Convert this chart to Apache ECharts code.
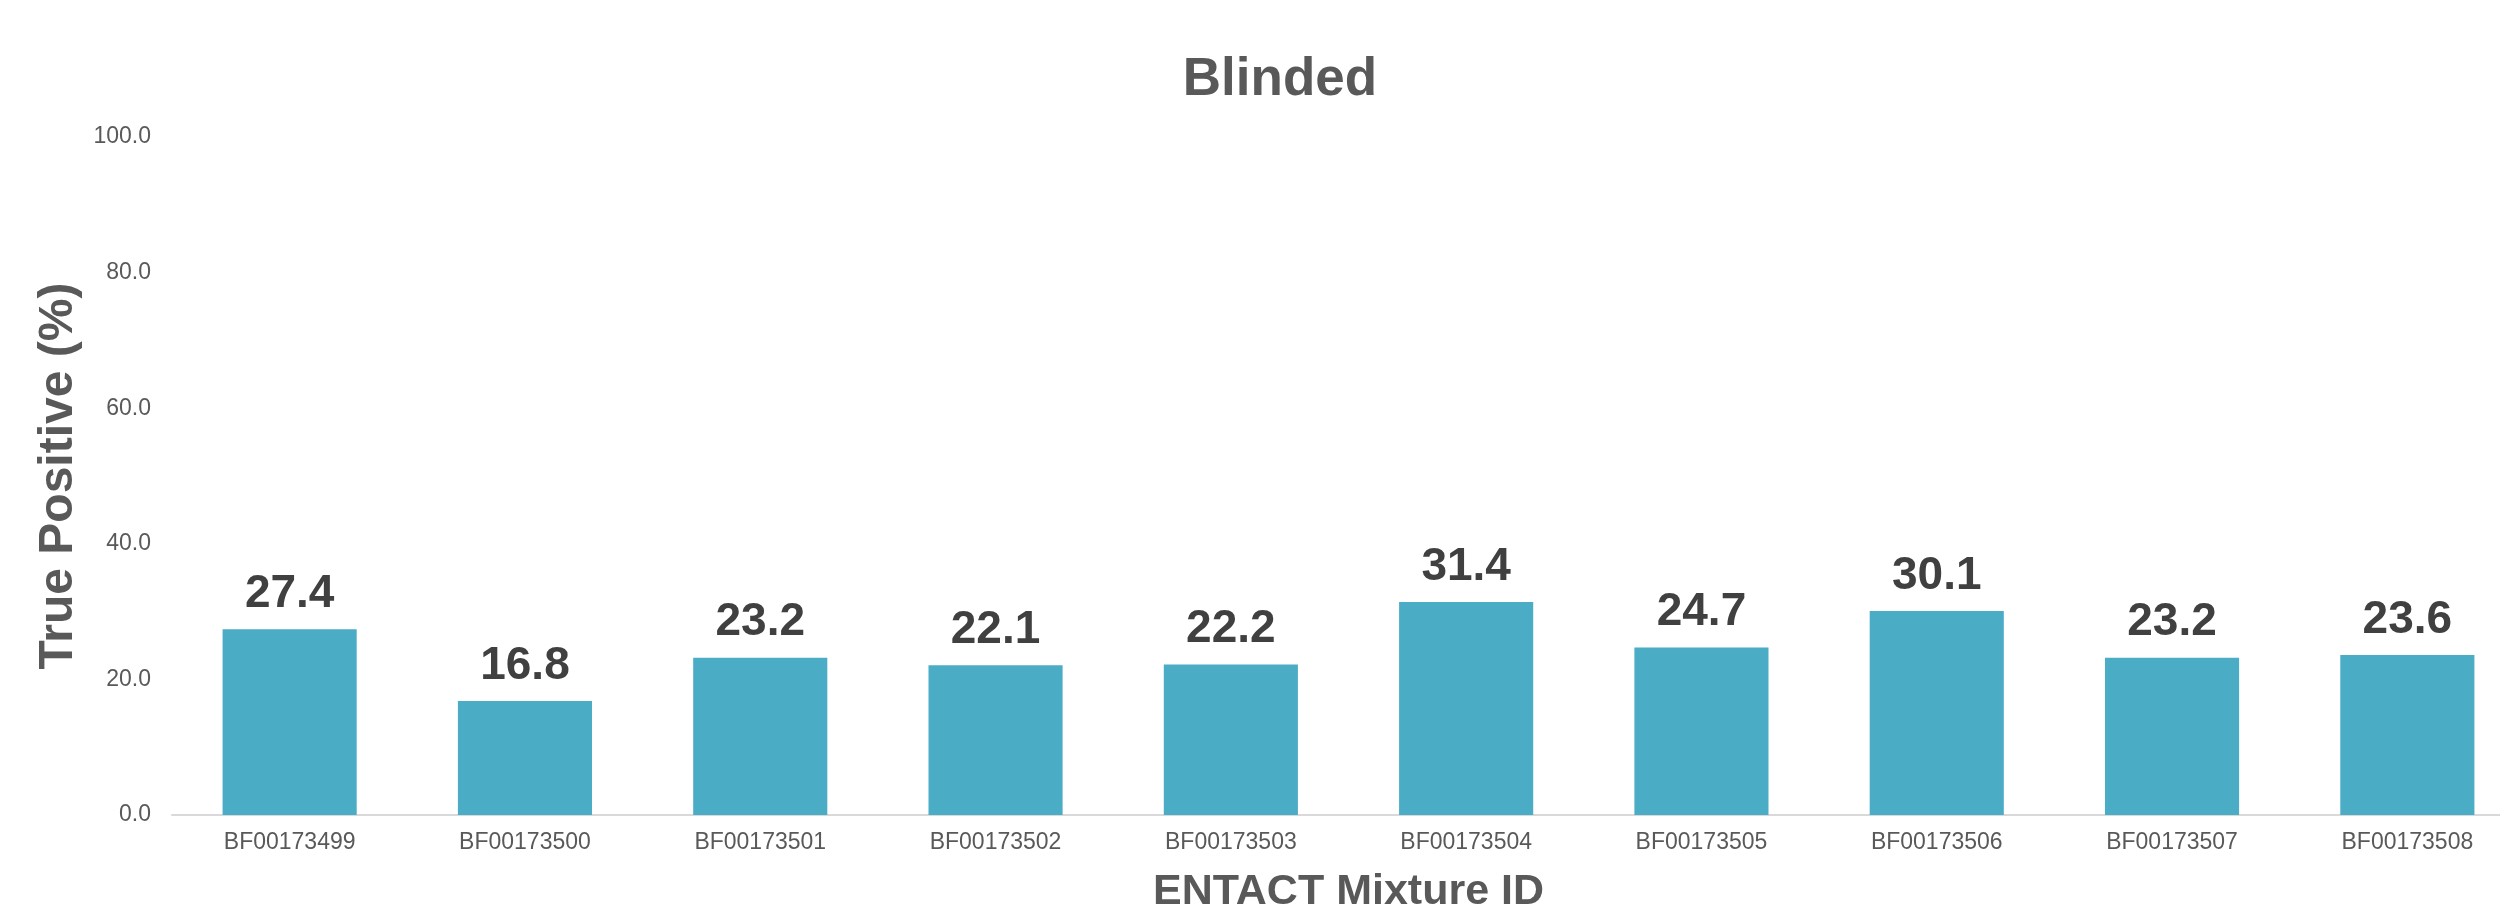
<!DOCTYPE html>
<html>
<head>
<meta charset="utf-8">
<script src="https://cdn.jsdelivr.net/npm/echarts@6/dist/echarts.min.js"></script>
<style>
  html, body { margin: 0; padding: 0; background: #fff; }
  #chart { width: 2500px; height: 906px; }
</style>
</head>
<body>
<div id="chart"></div>
<script>
// Mixture IDs along the x axis
const mixtureIds = [
  'BF00173499', 'BF00173500', 'BF00173501', 'BF00173502', 'BF00173503',
  'BF00173504', 'BF00173505', 'BF00173506', 'BF00173507', 'BF00173508'
];
// True positive rate per mixture (%)
const truePositive = [27.4, 16.8, 23.2, 22.1, 22.2, 31.4, 24.7, 30.1, 23.2, 23.6];
// Y axis range and step
const yMin = 0;
const yMax = 100;
const yStep = 20;

const FONT = '"Liberation Sans", Arial, sans-serif';
const chart = echarts.init(document.getElementById('chart'));

chart.setOption({
  backgroundColor: '#ffffff',
  animation: false,
  title: {
    text: 'Blinded',
    left: 1275,
    top: 49,
    textAlign: 'center',
    textStyle: { fontFamily: FONT, fontSize: 53, fontWeight: 'bold', color: '#595959' }
  },
  // the plot runs slightly past the right edge of the canvas
  grid: { left: 172, width: 2353, top: 137, height: 678, outerBoundsMode: 'none', containLabel: false },
  xAxis: {
    type: 'category',
    data: mixtureIds,
    name: 'ENTACT Mixture ID',
    nameLocation: 'middle',
    nameGap: 56,
    nameTextStyle: { fontFamily: FONT, fontSize: 43, fontWeight: 'bold', color: '#595959' },
    axisLine: { lineStyle: { color: '#D9D9D9', width: 2 } },
    axisTick: { show: false },
    axisLabel: { fontFamily: FONT, fontSize: 23, color: '#595959', margin: 16 }
  },
  yAxis: {
    type: 'value',
    min: yMin,
    max: yMax,
    interval: yStep,
    name: 'True Positive (%)',
    nameLocation: 'middle',
    nameGap: 86,
    nameTextStyle: { fontFamily: FONT, fontSize: 48, fontWeight: 'bold', color: '#595959' },
    axisLine: { show: false },
    axisTick: { show: false },
    splitLine: { show: false },
    axisLabel: {
      fontFamily: FONT, fontSize: 23, color: '#595959', margin: 21,
      formatter: v => v.toFixed(1)
    }
  },
  series: [{
    type: 'bar',
    data: truePositive,
    barWidth: '57%',
    itemStyle: { color: '#4BACC6' },
    label: {
      show: true,
      position: 'top',
      distance: 12,
      fontFamily: FONT,
      fontSize: 46,
      fontWeight: 'bold',
      color: '#404040',
      formatter: p => p.value.toFixed(1)
    }
  }]
});
</script>
</body>
</html>
